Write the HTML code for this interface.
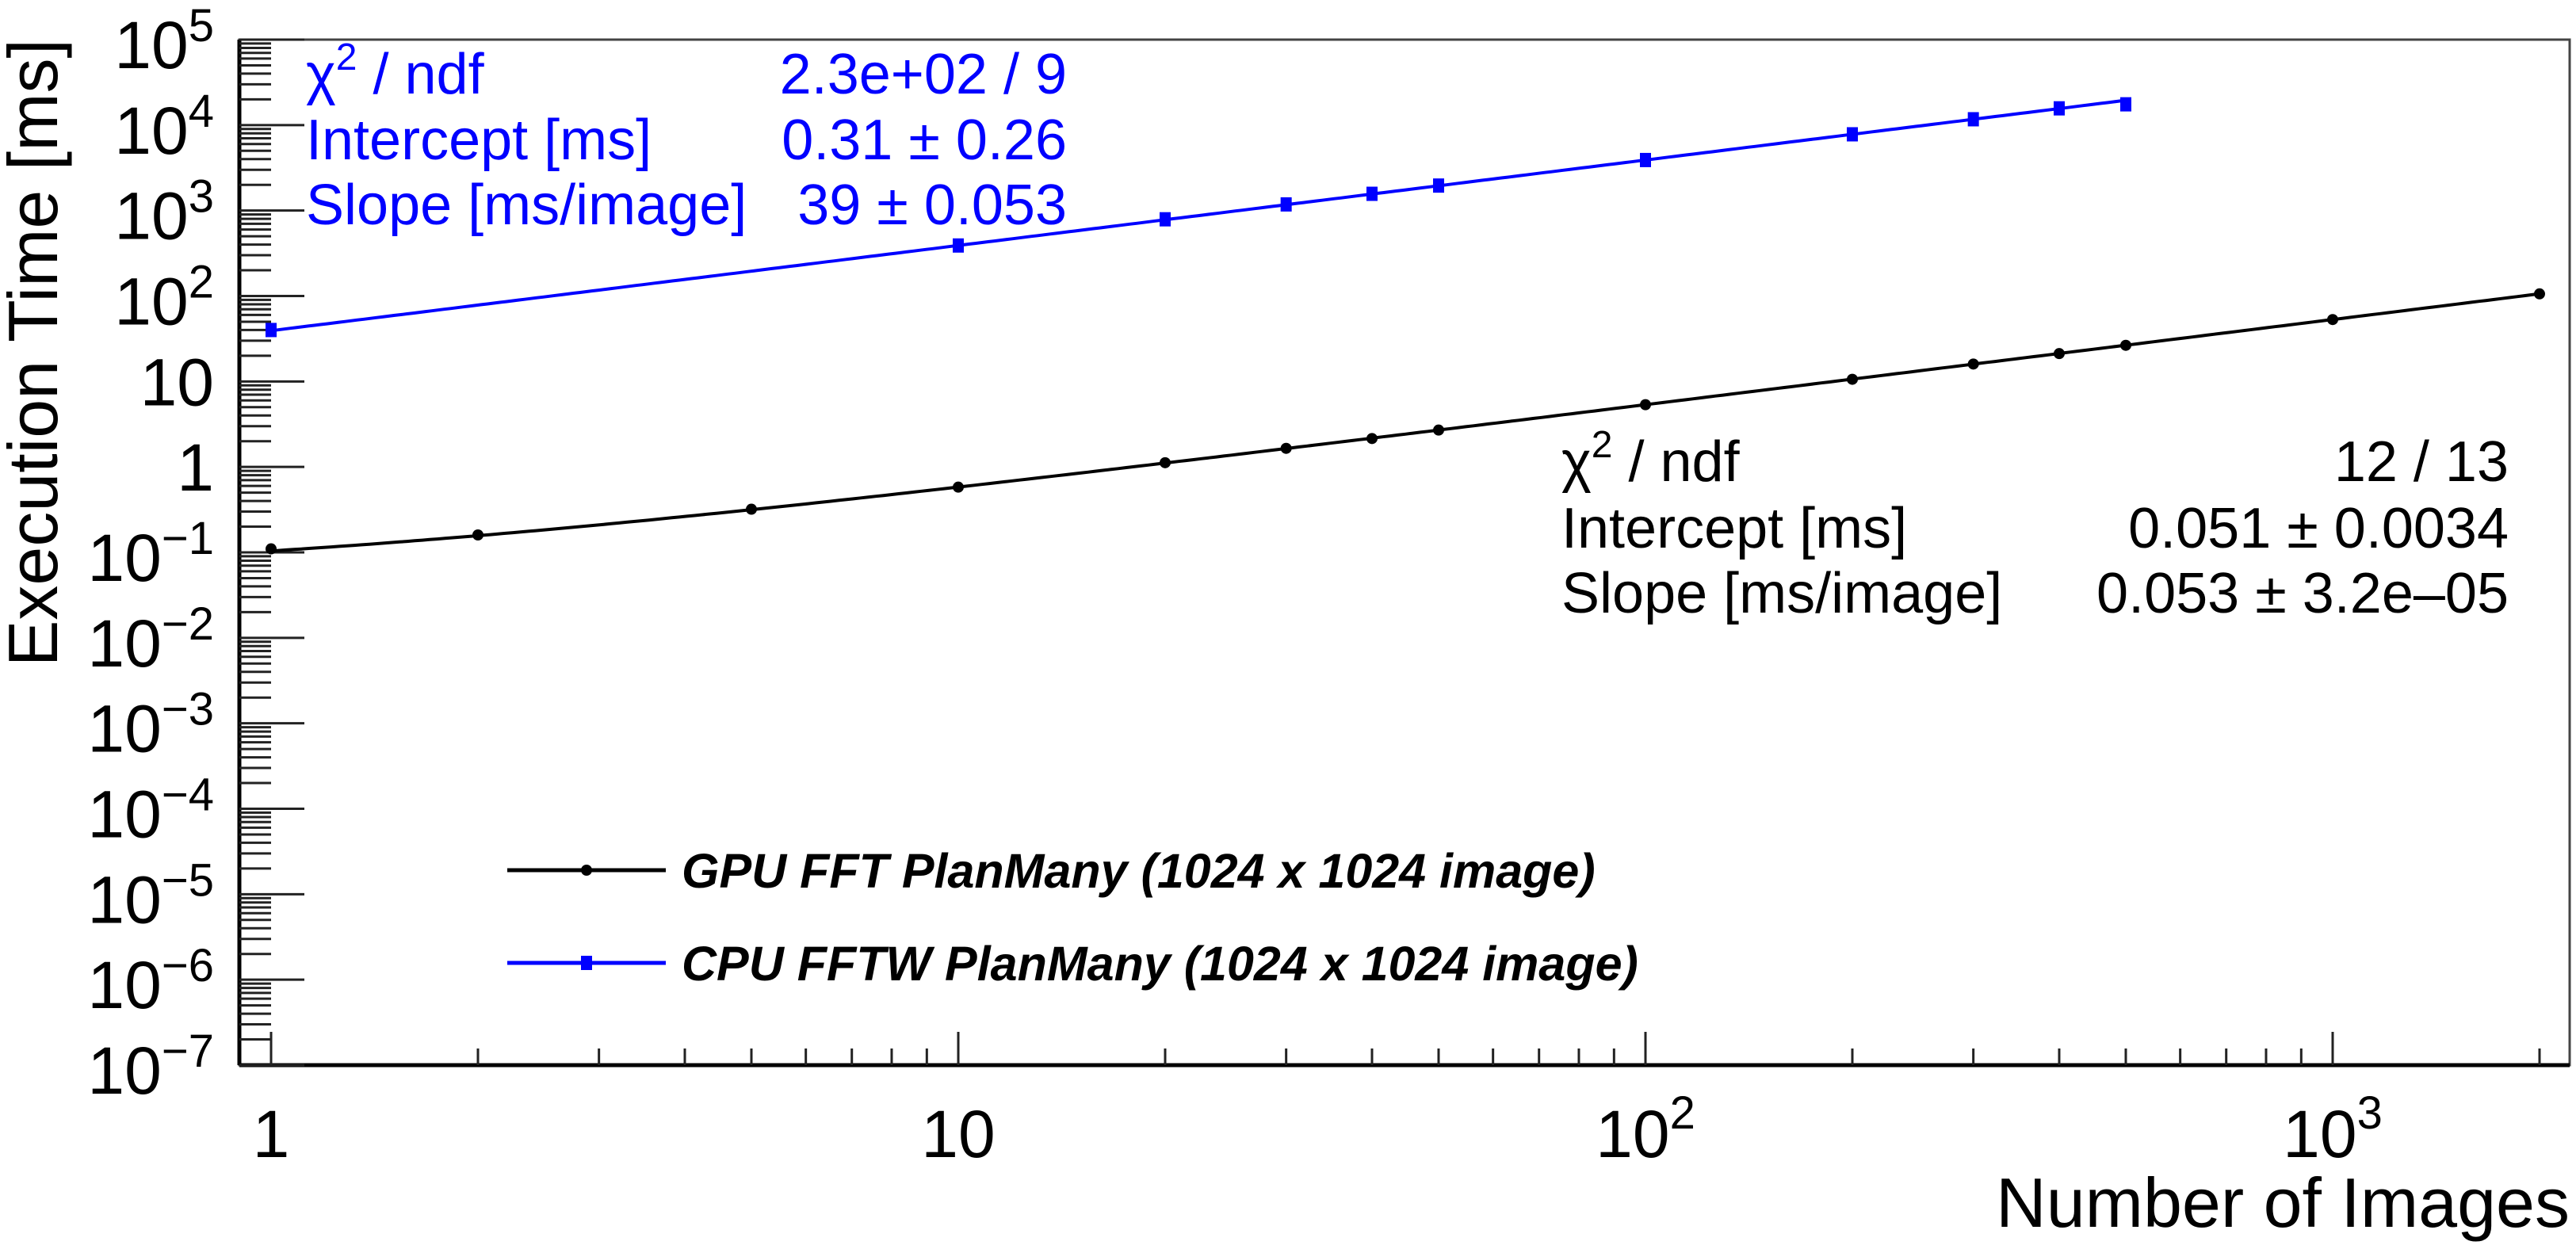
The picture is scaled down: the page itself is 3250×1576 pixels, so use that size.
<!DOCTYPE html>
<html><head><meta charset="utf-8"><style>
html,body{margin:0;padding:0;background:#fff;}
svg{display:block;font-family:"Liberation Sans",sans-serif;}
</style></head><body>
<svg id="c" width="3250" height="1576" viewBox="0 0 3250 1576"></svg>
<script>
const gpuX=[1,2,5,10,20,30,40,50,100,200,300,400,500,1000,2000];
const gpuY=[0.11,0.16,0.32,0.58,1.12,1.65,2.15,2.7,5.35,10.6,16,21.2,26.5,53,106];
const cpuX=[1,10,20,30,40,50,100,200,300,400,500];
const cpuY=[40,390,790,1180,1570,1960,3900,7800,11700,15700,17500];
const gpuFit=[0.051,0.053];
const cpuFit=[0.31,39];
const yExps=[-7,-6,-5,-4,-3,-2,-1,0,1,2,3,4,5];
const xExps=[0,1,2,3];

const NS="http://www.w3.org/2000/svg";
const svg=document.getElementById('c');
const L=302,R=3242,T=50,B=1344;
const x0=342,xDec=867;
const yDec=(B-T)/12;
function X(v){return x0+Math.log10(v)*xDec;}
function Y(v){return B-(Math.log10(v)+7)*yDec;}
function el(tag,attrs,parent){const e=document.createElementNS(NS,tag);for(const k in attrs)e.setAttribute(k,attrs[k]);(parent||svg).appendChild(e);return e;}

const frame=el('rect',{x:L,y:T,width:R-L,height:B-T,fill:'none',stroke:'#444',"stroke-width":3});


el('line',{x1:L,y1:B,x2:R,y2:B,stroke:'#000','stroke-width':5});
el('line',{x1:L,y1:T,x2:L,y2:B,stroke:'#000','stroke-width':5});

const yax=el('g',{});


for(let e=-7;e<=5;e++){
  for(let m=1;m<=9;m++){
    const v=m*Math.pow(10,e);
    if(e===5&&m>1)break;
    const y=Y(v);
    if(y<T-1)continue;
    el('line',{x1:L,y1:y,x2:L+(m===1?82:40),y2:y,stroke:'#222','stroke-width':3},yax);
  }
}
yExps.forEach(e=>{
  const y=Y(Math.pow(10,e));
  const t=el('text',{x:270,'font-size':84,'text-anchor':'end',fill:'#000'},yax);
  
  
  if(e===0){t.setAttribute('y',y+30);t.textContent='1';}
  else if(e===1){t.setAttribute('y',y+30);t.textContent='10';}
  else{
    t.setAttribute('y',y+36);
    const a=el('tspan',{},t);a.textContent='10';
    const b=el('tspan',{dy:-34,'font-size':58},t);b.textContent=(e<0?'\u2212':'')+Math.abs(e);
  }
});
const xax=el('g',{});


for(let e=0;e<=3;e++){
  for(let m=1;m<=9;m++){
    const v=m*Math.pow(10,e);
    const x=X(v);
    if(x>R)break;
    el('line',{x1:x,y1:B,x2:x,y2:B-(m===1?42:21),stroke:'#222','stroke-width':3},xax);
  }
}
xExps.forEach(e=>{
  const x=X(Math.pow(10,e));
  const t=el('text',{x:x,y:1460,'font-size':84,'text-anchor':'middle',fill:'#000'},xax);
  
  
  if(e===0)t.textContent='1';
  else if(e===1)t.textContent='10';
  else{const a=el('tspan',{},t);a.textContent='10';const b=el('tspan',{dy:-36,'font-size':58},t);b.textContent=String(e);}
});
const xt=el('text',{x:3242,y:1548,'font-size':88,'text-anchor':'end',fill:'#000'});
xt.textContent='Number of Images';


const yt=el('text',{x:0,y:0,'font-size':88,'text-anchor':'end',fill:'#000',transform:'translate(72,49) rotate(-90)'});
yt.textContent='Execution Time [ms]';



function fitPath(p,xmax,color,name){
  const pts=[];
  for(let i=0;i<=300;i++){const lx=Math.log10(xmax)*i/300;const xv=Math.pow(10,lx);pts.push(X(xv).toFixed(1)+','+Y(p[0]+p[1]*xv).toFixed(1));}
  const pl=el('polyline',{points:pts.join(' '),fill:'none',stroke:color,'stroke-width':4});
  
  
}
fitPath(gpuFit,gpuX[gpuX.length-1],'#000','gpu-fit-line');
fitPath(cpuFit,cpuX[cpuX.length-1],'#00f','cpu-fit-line');
gpuX.forEach((xv,i)=>{
  const c=el('circle',{cx:X(xv),cy:Y(gpuY[i]),r:7,fill:'#000'});
  
  
});
cpuX.forEach((xv,i)=>{
  const r=el('rect',{x:X(xv)-7,y:Y(cpuY[i])-9,width:14,height:18,fill:'#00f'});
  
  
});

function stats(lx,rx,ys,color,rows,name){
  const g=el('g',{fill:color,'font-size':72});
  
  
  rows.forEach((r,i)=>{
    const a=el('text',{x:lx,y:ys[i]},g);
    if(i===0){const s=el('tspan',{},a);s.textContent='\u03c7';const s2=el('tspan',{dy:-30,'font-size':48},a);s2.textContent='2';const s3=el('tspan',{dy:30},a);s3.textContent=' / ndf';}
    else a.textContent=r[0];
    const b=el('text',{x:rx,y:ys[i],'text-anchor':'end'},g);b.textContent=r[1];
  });
}
stats(386,1346,[118,201,283],'#00f',[['',"2.3e+02 / 9"],['Intercept [ms]','0.31 \u00b1  0.26'],['Slope [ms/image]','39 \u00b1 0.053']],'cpu-fit-stats');
stats(1970,3165,[607,691,773],'#000',[['','12 / 13'],['Intercept [ms]','0.051 \u00b1 0.0034'],['Slope [ms/image]','0.053 \u00b1 3.2e\u201305']],'gpu-fit-stats');

const lg=el('g',{});


const e1=el('g',{},lg);


el('line',{x1:640,y1:1098,x2:840,y2:1098,stroke:'#000','stroke-width':5},e1);
el('circle',{cx:740,cy:1098,r:7,fill:'#000'},e1);
const t1=el('text',{x:860,y:1120,'font-size':61,'font-weight':'bold','font-style':'italic',fill:'#000'},e1);
t1.textContent='GPU FFT PlanMany (1024 x 1024 image)';
const e2=el('g',{},lg);


el('line',{x1:640,y1:1215,x2:840,y2:1215,stroke:'#00f','stroke-width':5},e2);
el('rect',{x:733,y:1206,width:14,height:18,fill:'#00f'},e2);
const t2=el('text',{x:860,y:1237,'font-size':61,'font-weight':'bold','font-style':'italic',fill:'#000'},e2);
t2.textContent='CPU FFTW PlanMany (1024 x 1024 image)';
</script>
</body></html>
